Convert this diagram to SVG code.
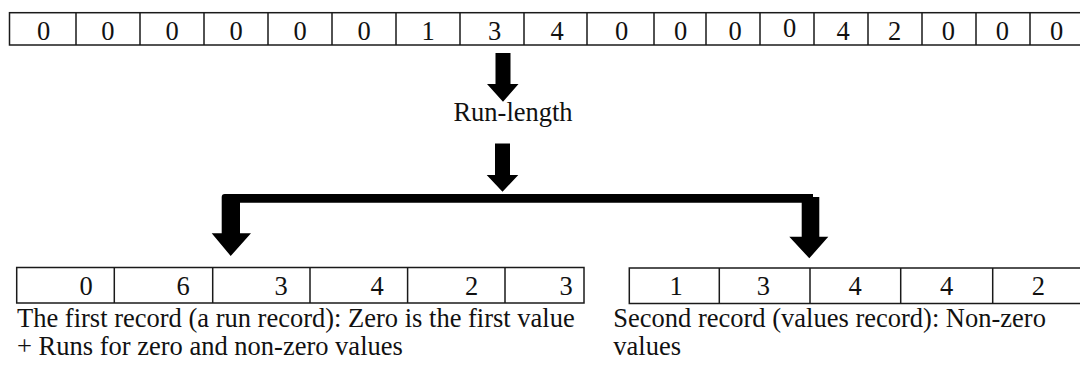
<svg xmlns="http://www.w3.org/2000/svg" width="1080" height="367" viewBox="0 0 1080 367">
<style>
.cell{fill:#fff;stroke:#1a1a1a;stroke-width:1.5}
.div{stroke:#1a1a1a;stroke-width:1.5}
.t{font-family:"Liberation Serif","Times New Roman",serif;font-size:26.5px;fill:#111}
.d{font-family:"Liberation Serif","Times New Roman",serif;font-size:26.5px;fill:#111;text-anchor:middle}
.arrow{fill:#000}
</style>
<rect width="1080" height="367" fill="#fff"/>
<g id="input-row">
<rect class="cell" x="9.5" y="12.7" width="1076" height="32.3"/>
<path class="div" d="M76 12.7V45M140 12.7V45M204 12.7V45M268 12.7V45M332 12.7V45M396 12.7V45M460 12.7V45M524 12.7V45M587 12.7V45M654 12.7V45M706 12.7V45M760 12.7V45M814 12.7V45M868 12.7V45M922 12.7V45M976 12.7V45M1030 12.7V45"/>
<text class="d" x="43.7" y="39.5">0</text>
<text class="d" x="107.8" y="39.5">0</text>
<text class="d" x="172" y="39.5">0</text>
<text class="d" x="236" y="39.5">0</text>
<text class="d" x="300" y="39.5">0</text>
<text class="d" x="364" y="39.5">0</text>
<text class="d" x="428" y="39.5">1</text>
<text class="d" x="494.5" y="39.5">3</text>
<text class="d" x="557" y="39.5">4</text>
<text class="d" x="621.6" y="39.5">0</text>
<text class="d" x="680.5" y="39.5">0</text>
<text class="d" x="735" y="39.5">0</text>
<text class="d" x="789.6" y="36.5">0</text>
<text class="d" x="843" y="39.5">4</text>
<text class="d" x="894.7" y="39.5">2</text>
<text class="d" x="948.4" y="39.5">0</text>
<text class="d" x="1002.4" y="39.5">0</text>
<text class="d" x="1056.5" y="39.5">0</text>
</g>
<g id="run-length">
<text class="d" x="513" y="121">Run-length</text>
</g>
<g id="record1">
<rect class="cell" x="16.7" y="267.5" width="567.3" height="35.5"/>
<path class="div" d="M114.3 267.5V303M212.7 267.5V303M310 267.5V303M407.6 267.5V303M505 267.5V303"/>
<text class="d" x="86" y="295">0</text>
<text class="d" x="183" y="295">6</text>
<text class="d" x="281" y="295">3</text>
<text class="d" x="377" y="295">4</text>
<text class="d" x="471.5" y="295">2</text>
<text class="d" x="566" y="295">3</text>
<text class="t" x="17" y="327">The first record (a run record): Zero is the first value</text>
<text class="t" x="17" y="355">+ Runs for zero and non-zero values</text>
</g>
<g id="record2">
<rect class="cell" x="629.3" y="268" width="460" height="35.5"/>
<path class="div" d="M719.3 268V303.5M810 268V303.5M900.7 268V303.5M992.7 268V303.5"/>
<text class="d" x="676" y="295">1</text>
<text class="d" x="763.3" y="295">3</text>
<text class="d" x="855" y="295">4</text>
<text class="d" x="946.7" y="295">4</text>
<text class="d" x="1038.3" y="295">2</text>
<text class="t" x="613.3" y="327">Second record (values record): Non-zero</text>
<text class="t" x="613.3" y="355">values</text>
</g>
<g id="connectors">
<path class="arrow" d="M495.5 53H510.5V84H518.5L503 101.7L487 84H495.5Z"/>
<path class="arrow" d="M495 143.5H510V175H518.3L502.5 191.7L486.7 175H495Z"/>
<path class="arrow" d="M221.7 233.3V197Q221.7 194 224.7 194H813V197H819.3V236.7H828.3L809.3 258.3L789.3 236.7H801.7V202.7H240V233.3H251L230.7 256L211.7 233.3Z"/>
</g>
</svg>
